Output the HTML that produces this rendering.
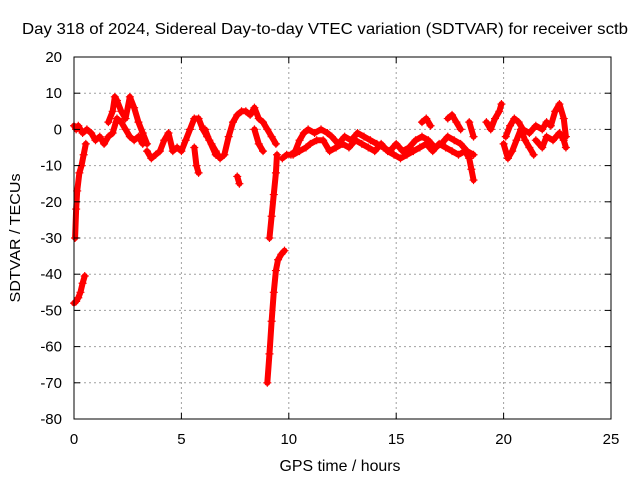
<!DOCTYPE html>
<html><head><meta charset="utf-8"><style>
body{margin:0;background:#fff}
svg{display:block;font-family:"Liberation Sans",sans-serif}
</style></head><body>
<svg id="chart" width="640" height="480" viewBox="0 0 640 480" xmlns="http://www.w3.org/2000/svg">
<rect width="640" height="480" fill="#fff"/>
<text x="325" y="34" font-size="16" text-anchor="middle" textLength="606" lengthAdjust="spacingAndGlyphs">Day 318 of 2024, Sidereal Day-to-day VTEC variation (SDTVAR) for receiver sctb</text>
<text transform="translate(20,238) rotate(-90)" font-size="15" text-anchor="middle" textLength="129" lengthAdjust="spacingAndGlyphs">SDTVAR / TECUs</text>
<text x="340" y="471" font-size="16" text-anchor="middle" textLength="121" lengthAdjust="spacingAndGlyphs">GPS time / hours</text>
<g id="grid"></g>
<g id="marks"></g>
<rect x="74" y="57" width="537" height="362" fill="none" stroke="#000" stroke-width="1"/>
<g id="ticks"></g>
</svg>
<script>
const xTicks=[0,5,10,15,20,25];
const yTicks=[20,10,0,-10,-20,-30,-40,-50,-60,-70,-80];
const trackA=[[0,-48],[0.1,-47.5],[0.2,-46.5],[0.3,-45],[0.4,-42.5],[0.5,-40.5]];
const trackB=[[0.05,-30],[0.1,-22],[0.15,-17],[0.25,-12],[0.35,-10],[0.45,-7],[0.55,-4]];
const trackC=[[0,1],[0.1,0],[0.2,1],[0.4,-1],[0.6,0],[0.8,-1],[1.0,-3],[1.2,-2],[1.4,-4],[1.6,-2],[1.8,-1],[2.0,3],[2.2,2],[2.4,0],[2.6,-2],[2.8,-3],[3.0,-2],[3.2,-4]];
const trackD=[[1.6,2],[1.8,5],[1.9,9],[2.0,8],[2.2,5],[2.4,3],[2.6,9],[2.8,6],[3.0,2],[3.2,-1],[3.4,-4]];
const trackE=[[3.4,-6],[3.6,-8],[3.8,-7],[4.0,-6],[4.2,-3],[4.4,-1],[4.6,-6],[4.8,-5],[5.0,-6],[5.2,-3],[5.4,0],[5.6,3],[5.8,3],[6.0,0],[6.2,-2],[6.4,-4],[6.6,-6],[6.8,-8],[7.0,-7],[7.2,-2],[7.4,2],[7.6,4],[7.8,5],[8.0,5],[8.2,4],[8.4,6],[8.6,3],[8.8,2],[9.0,0],[9.2,-2],[9.4,-4]];
const trackF=[[5.6,-5],[5.7,-10],[5.8,-12]];
const trackG=[[6.1,0],[6.3,-3],[6.6,-7]];
const trackH=[[7.6,-13],[7.7,-15]];
const trackI=[[8.4,0],[8.6,-4],[8.8,-6]];
const trackJ=[[9.45,-7],[9.4,-12],[9.3,-18],[9.2,-24],[9.1,-30]];
const trackK=[[9.0,-70],[9.1,-62],[9.2,-53],[9.3,-45],[9.4,-39],[9.5,-36],[9.65,-34.5],[9.8,-33.5]];
const trackL=[[9.7,-8],[9.9,-7],[10.1,-7],[10.3,-6],[10.5,-3],[10.7,-1],[10.9,0],[11.2,-1],[11.5,0],[11.8,-1],[12.0,-2],[12.3,-4],[12.6,-2],[12.9,-3],[13.2,-1],[13.5,-2],[13.8,-3],[14.1,-4],[14.4,-5],[14.7,-6],[15.0,-4],[15.3,-6],[15.6,-5],[15.9,-3],[16.2,-2],[16.5,-3],[16.8,-5],[17.1,-4],[17.4,-2],[17.7,-3],[18.0,-4],[18.3,-6],[18.6,-7]];
const trackM=[[10.2,-7],[10.5,-6],[10.8,-5],[11.0,-4],[11.3,-3],[11.6,-3],[11.9,-6],[12.2,-5],[12.5,-4],[12.8,-5],[13.1,-3],[13.4,-4],[13.7,-5],[14.0,-6],[14.3,-4],[14.6,-6],[14.9,-7],[15.2,-8],[15.5,-7],[15.8,-6],[16.1,-5],[16.4,-4],[16.7,-6],[17.0,-4],[17.3,-5],[17.6,-6],[17.9,-7],[18.2,-6],[18.4,-8],[18.5,-11],[18.6,-14]];
const trackN=[[16.2,2],[16.4,3],[16.6,1]];
const trackO=[[17.4,3],[17.6,4],[17.8,2],[18.0,0]];
const trackP=[[18.4,2],[18.6,-2]];
const trackQ=[[19.2,2],[19.4,0],[19.6,3],[19.8,5],[19.9,7]];
const trackR=[[20.0,-4],[20.2,-8],[20.4,-6],[20.6,-3],[20.8,0],[21.0,-3],[21.2,-5],[21.4,-7]];
const trackS=[[20.1,-2],[20.3,1],[20.5,3],[20.7,2],[20.9,0],[21.2,-1],[21.5,1],[21.8,0],[22.0,2],[22.2,1],[22.4,5],[22.6,7],[22.8,3],[22.9,-2]];
const trackT=[[21.5,-3],[21.8,-5],[22.0,-2],[22.3,-3],[22.6,-1],[22.8,-3],[22.9,-5]];
const tracks=[trackA,trackB,trackC,trackD,trackE,trackF,trackG,trackH,trackI,trackJ,trackK,trackL,trackM,trackN,trackO,trackP,trackQ,trackR,trackS,trackT];

const NS="http://www.w3.org/2000/svg";
const X0=74,X1=611,Y0=419,Y1=57;
function sx(t){return X0+(t-0)/(25-0)*(X1-X0);}
function sy(v){return Y0-(v+80)/(100)*(Y0-Y1);}
function mk(tag,attrs,parent){const e=document.createElementNS(NS,tag);for(const k in attrs)e.setAttribute(k,attrs[k]);parent.appendChild(e);return e;}
const grid=document.getElementById('grid'),ticks=document.getElementById('ticks'),marks=document.getElementById('marks');
xTicks.forEach(t=>{const x=sx(t);
 if(t>0&&t<25){const g=mk('line',{x1:x,x2:x,y1:Y0,y2:Y1,stroke:'#a0a0a0','stroke-dasharray':'2,3'},grid);}
 mk('line',{x1:x,x2:x,y1:Y0,y2:Y0-6,stroke:'#000'},ticks);mk('line',{x1:x,x2:x,y1:Y1,y2:Y1+6,stroke:'#000'},ticks);
 const l=mk('text',{x:x,y:444,'font-size':15,'text-anchor':'middle'},ticks);l.textContent=t;
 });
yTicks.forEach(v=>{const y=sy(v);
 if(v>-80&&v<20){const g=mk('line',{x1:X0,x2:X1,y1:y,y2:y,stroke:'#a0a0a0','stroke-dasharray':'2,3'},grid);}
 mk('line',{x1:X0,x2:X0+6,y1:y,y2:y,stroke:'#000'},ticks);mk('line',{x1:X1,x2:X1-6,y1:y,y2:y,stroke:'#000'},ticks);
 const l=mk('text',{x:62,y:y+5,'font-size':15,'text-anchor':'end'},ticks);l.textContent=v;
 });
tracks.forEach(tr=>{
 const p=mk('polyline',{points:tr.map(d=>sx(d[0])+','+sy(d[1])).join(' '),fill:'none',stroke:'#f00','stroke-width':6,'stroke-linejoin':'round','stroke-linecap':'round'},marks);
 
 
 tr.forEach(d=>{const x=sx(d[0]),y=sy(d[1]);
  const m=mk('path',{d:`M${x-4},${y}H${x+4}M${x},${y-4}V${y+4}`,stroke:'#f00','stroke-width':1.2},marks);
  
  });
});
</script>
</body></html>
